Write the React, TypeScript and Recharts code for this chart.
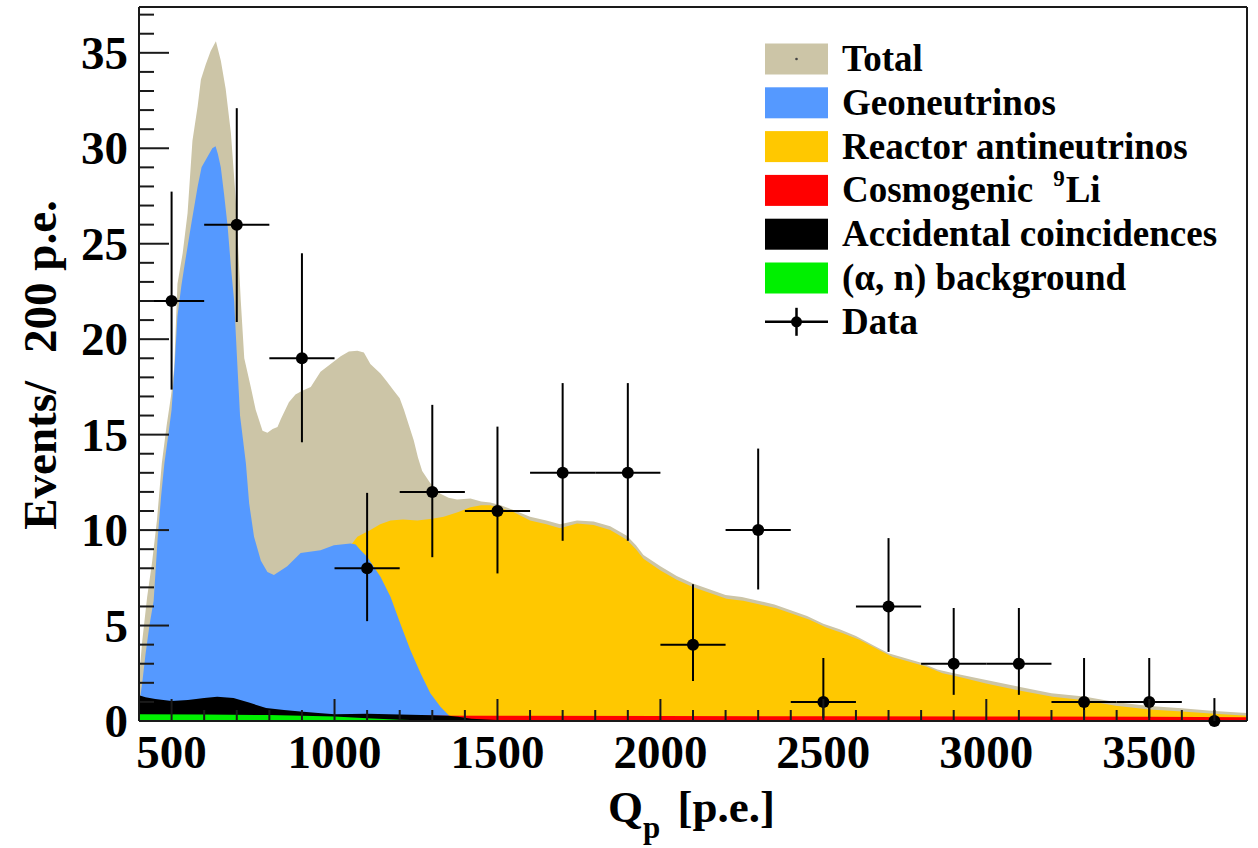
import React from 'react';
import { ComposedChart, Area, Scatter, ErrorBar, XAxis, YAxis, ReferenceLine, Legend } from 'recharts';

// ---------- data ----------
// [Qp, events per 200 p.e.]
const totalCurve: [number, number][] = [
  [400, 2.2], [410, 4.2], [425, 6.5], [440, 8.3], [455, 10.5], [470, 13.5], [485, 15.5], [498, 17.0],
  [508, 18.5], [518, 22.9], [534, 24.5], [549, 26.6], [564, 30.4], [580, 32.2], [590, 33.6], [605, 34.4],
  [620, 35.1], [636, 35.6], [651, 34.6], [666, 33.1], [682, 30.8], [697, 27.3], [712, 22.1], [723, 19.0],
  [743, 17.5], [758, 16.3], [779, 15.2], [794, 15.1], [810, 15.3], [825, 15.4], [835, 15.8], [860, 16.7],
  [880, 17.1], [901, 17.3], [927, 17.5], [957, 18.3], [988, 18.7], [1019, 19.1], [1044, 19.35], [1070, 19.4],
  [1090, 19.3], [1110, 18.7], [1141, 18.2], [1160, 17.8], [1182, 17.3], [1200, 16.9], [1213, 16.3], [1228, 15.5],
  [1243, 14.7], [1256, 13.8], [1269, 13.1], [1294, 12.45], [1325, 11.9], [1350, 11.7], [1376, 11.6], [1417, 11.65],
  [1450, 11.5], [1478, 11.45], [1510, 11.3], [1549, 11.05], [1600, 10.7], [1650, 10.5], [1692, 10.3], [1744, 10.5],
  [1795, 10.45], [1846, 10.2], [1897, 9.7], [1925, 9.2], [1948, 8.7], [2000, 8.1], [2050, 7.6], [2100, 7.2],
  [2150, 6.9], [2200, 6.6], [2250, 6.5], [2300, 6.3], [2350, 6.1], [2400, 5.8], [2450, 5.5], [2500, 5.1],
  [2550, 4.8], [2600, 4.45], [2650, 4.0], [2700, 3.55], [2750, 3.3], [2800, 3.05], [2850, 2.7], [2900, 2.5],
  [3000, 2.15], [3100, 1.8], [3200, 1.45], [3300, 1.28], [3400, 0.98], [3500, 0.78], [3600, 0.67], [3700, 0.52],
  [3800, 0.42],
];

const reactorCurve: [number, number][] = [
  [400, 0.2], [450, 0.5], [500, 1.0], [550, 2.0], [600, 3.2], [650, 4.3], [700, 5.3], [750, 6.0],
  [800, 6.4], [850, 7.0], [900, 7.6], [950, 8.2], [1000, 8.7], [1050, 9.2], [1070, 9.65], [1110, 10.0],
  [1140, 10.3], [1172, 10.5], [1210, 10.55], [1254, 10.5], [1300, 10.6], [1335, 10.7], [1380, 10.95], [1417, 11.2],
  [1450, 11.3], [1478, 11.3], [1510, 11.15], [1549, 10.95], [1600, 10.5], [1650, 10.3], [1692, 10.1], [1744, 10.35],
  [1795, 10.27], [1846, 10.0], [1897, 9.5], [1925, 9.0], [1948, 8.5], [1999, 7.9], [2050, 7.4], [2101, 7.0],
  [2152, 6.7], [2203, 6.4], [2254, 6.3], [2305, 6.1], [2356, 5.9], [2407, 5.6], [2458, 5.3], [2509, 4.9],
  [2560, 4.6], [2611, 4.25], [2662, 3.8], [2713, 3.35], [2764, 3.1], [2815, 2.85], [2866, 2.5], [2918, 2.3],
  [2999, 1.97], [3101, 1.6], [3203, 1.27], [3295, 1.1], [3397, 0.8], [3500, 0.6], [3600, 0.5], [3700, 0.38],
  [3800, 0.28],
];

const geoCurve: [number, number][] = [
  [400, 0.8], [410, 2.0], [420, 3.5], [432, 5.0], [445, 6.3], [457, 9.5], [468, 11.8], [478, 13.5],
  [490, 15.0], [500, 16.3], [510, 18.8], [518, 21.2], [530, 22.8], [540, 23.9], [560, 26.0], [580, 28.0],
  [592, 29.0], [605, 29.4], [625, 30.0], [635, 30.1], [642, 29.7], [651, 29.0], [661, 27.6], [672, 25.9],
  [682, 23.8], [692, 22.0], [702, 18.6], [710, 16.0], [728, 13.5], [738, 11.4], [753, 9.65], [774, 8.4],
  [794, 7.8], [814, 7.65], [855, 8.1], [896, 8.8], [957, 8.95], [998, 9.2], [1049, 9.3], [1065, 9.25],
  [1080, 8.95], [1100, 8.6], [1141, 7.55], [1172, 6.5], [1202, 5.1], [1233, 3.7], [1264, 2.5], [1294, 1.45],
  [1325, 0.75], [1355, 0.22], [1380, 0.05], [1420, 0], [3800, 0],
];

const li9Curve: [number, number][] = [
  [400, 0.3], [1000, 0.29], [1500, 0.27], [2000, 0.26], [2500, 0.25], [3000, 0.24], [3500, 0.22], [3800, 0.2],
];

const accidentalCurve: [number, number][] = [
  [400, 1.35], [420, 1.25], [450, 1.15], [500, 1.05], [550, 1.1], [600, 1.2], [640, 1.27], [690, 1.2],
  [740, 0.95], [790, 0.68], [845, 0.58], [895, 0.5], [950, 0.42], [1000, 0.36], [1100, 0.38], [1200, 0.34],
  [1300, 0.3], [1350, 0.28], [1380, 0.22], [1420, 0.12], [1500, 0.05], [2000, 0.02], [3800, 0.01],
];

const alphaNCurve: [number, number][] = [
  [400, 0.35], [600, 0.34], [800, 0.31], [1000, 0.24], [1100, 0.14], [1200, 0.06], [1300, 0.02], [1500, 0.01], [3800, 0],
];

// measured data (200 p.e. bins)
const binCenters = [500, 700, 900, 1100, 1300, 1500, 1700, 1900, 2100, 2300, 2500, 2700, 2900, 3100, 3300, 3500, 3700];
const counts = [22, 26, 19, 8, 12, 11, 13, 13, 4, 10, 1, 6, 3, 3, 1, 1, 0];
const lowerBounds = [17.36, 20.9, 14.6, 5.23, 8.58, 7.73, 9.44, 9.44, 2.09, 6.89, 0.17, 3.62, 1.37, 1.37, 0.17, 0.17, 0];
const upperBounds = [27.73, 32.1, 24.5, 11.95, 16.56, 15.42, 17.7, 17.7, 7.16, 14.27, 3.3, 9.58, 5.92, 5.92, 3.3, 3.3, 1.2];
const binHalfWidth = 100;

// axes
const xDomain: [number, number] = [400, 3800];
const yDomain: [number, number] = [0, 37.4];
const xMajorTicks = [500, 1000, 1500, 2000, 2500, 3000, 3500];
const yMajorTicks = [0, 5, 10, 15, 20, 25, 30, 35];
const xTicks = Array.from({ length: 35 }, (_, i) => 400 + i * 100);
const yTicks = Array.from({ length: 38 }, (_, i) => i);

const xTitle = 'Q';
const xTitleSub = 'p';
const xTitleUnit = ' [p.e.]';
const yTitleA = 'Events/';
const yTitleB = '200 p.e.';

// colours
const TAN = '#CCC5A7';
const BLUE = '#5599FF';
const YELLOW = '#FFC800';
const RED = '#FF0000';
const BLACK = '#000000';
const GREEN = '#00F000';

const legendItems = [
  { label: 'Total', color: TAN, kind: 'total' },
  { label: 'Geoneutrinos', color: BLUE, kind: 'box' },
  { label: 'Reactor antineutrinos', color: YELLOW, kind: 'box' },
  { label: 'Cosmogenic', sup: '9', after: 'Li', color: RED, kind: 'box' },
  { label: 'Accidental coincidences', color: BLACK, kind: 'box' },
  { label: '(\u03b1, n) background', color: GREEN, kind: 'box' },
  { label: 'Data', color: BLACK, kind: 'data' },
];

const toRows = (c: [number, number][]) => c.map(([q, v]) => ({ q, v }));

const pointRows = binCenters.map((q, i) => ({
  q,
  v: counts[i],
  ey: [counts[i] - lowerBounds[i], upperBounds[i] - counts[i]],
  ex: binHalfWidth,
}));

const FONT = "'Liberation Serif', 'Times New Roman', serif";
const AXIS_COLOR = '#1a1a1a';

const XTick = (props: any) => {
  const { x, y, payload } = props;
  const v = payload.value;
  const major = xMajorTicks.includes(v);
  return (
    <g>
      <line x1={x} x2={x} y1={y} y2={y - (major ? 22 : 11)} stroke={AXIS_COLOR} strokeWidth={2} />
      {major && (
        <text x={x} y={y + 47} textAnchor="middle" fontFamily={FONT} fontWeight="bold" fontSize={47} fill="#000">
          {v}
        </text>
      )}
    </g>
  );
};

const YTick = (props: any) => {
  const { x, y, payload } = props;
  const v = payload.value;
  const major = yMajorTicks.includes(v);
  return (
    <g>
      <line x1={x} x2={x + (major ? 30 : 15)} y1={y} y2={y} stroke={AXIS_COLOR} strokeWidth={2} />
      {major && (
        <text x={x - 11} y={y + 16} textAnchor="end" fontFamily={FONT} fontWeight="bold" fontSize={47} fill="#000">
          {v}
        </text>
      )}
    </g>
  );
};

const XTitleLabel = (props: any) => {
  const vb = props.viewBox || { x: 139, y: 721, width: 1108, height: 127 };
  const cx = vb.x + vb.width / 2;
  const base = vb.y + 101;
  return (
    <text x={cx - 85} y={base} fontFamily={FONT} fontWeight="bold" fontSize={45} fill="#000">
      <tspan>{xTitle}</tspan>
      <tspan dy={16} fontSize={31}>{xTitleSub}</tspan>
      <tspan dy={-16} dx={6}>{xTitleUnit}</tspan>
    </text>
  );
};

const YTitleLabel = (props: any) => {
  const vb = props.viewBox || { x: 0, y: 7, width: 139, height: 714 };
  const cy = vb.y + vb.height / 2 + 1;
  const bx = 56;
  return (
    <text
      x={bx}
      y={cy}
      transform={`rotate(-90, ${bx}, ${cy})`}
      textAnchor="middle"
      fontFamily={FONT}
      fontWeight="bold"
      fontSize={47}
      fill="#000"
    >
      <tspan>{yTitleA}</tspan>
      <tspan dx={28}>{yTitleB}</tspan>
    </text>
  );
};

const LegendBox = () => {
  const rowY = (i: number) => 29 + i * 43.8;
  return (
    <svg width={490} height={320} style={{ display: 'block', overflow: 'visible' }}>
      {legendItems.map((it, i) => {
        const cy = rowY(i);
        return (
          <g key={it.label}>
            {it.kind !== 'data' && (
              <rect x={5} y={cy - 15.5} width={63} height={31} fill={it.color} />
            )}
            {it.kind === 'total' && <circle cx={36.5} cy={cy} r={1.3} fill="#444" />}
            {it.kind === 'data' && (
              <g>
                <line x1={5} x2={68} y1={cy} y2={cy} stroke="#000" strokeWidth={2.5} />
                <line x1={36.5} x2={36.5} y1={cy - 14} y2={cy + 14} stroke="#000" strokeWidth={2.5} />
                <circle cx={36.5} cy={cy} r={5.5} fill="#000" />
              </g>
            )}
            <text x={82} y={cy + 12} fontFamily={FONT} fontWeight="bold" fontSize={37} fill="#000">
              {it.label}
              {it.sup && (
                <>
                  <tspan dx={20} dy={-16} fontSize={23}>{it.sup}</tspan>
                  <tspan dx={1} dy={16}>{it.after}</tspan>
                </>
              )}
            </text>
          </g>
        );
      })}
    </svg>
  );
};

const Dot = (props: any) => {
  const { cx, cy } = props;
  if (cx == null || cy == null) return null;
  return <circle cx={cx} cy={cy} r={6} fill="#000" />;
};

export default function App() {
  return (
    <div style={{ position: 'absolute', left: 0, top: 0, width: 1258, height: 848, background: '#fff' }}>
      <ComposedChart width={1258} height={848} margin={{ top: 7, right: 11, left: 0, bottom: 0 }}>
        <Area data={toRows(totalCurve)} dataKey="v" type="linear" fill={TAN} fillOpacity={1} stroke="none" isAnimationActive={false} dot={false} activeDot={false} />
        <Area data={toRows(reactorCurve)} dataKey="v" type="linear" fill={YELLOW} fillOpacity={1} stroke="none" isAnimationActive={false} dot={false} activeDot={false} />
        <Area data={toRows(geoCurve)} dataKey="v" type="linear" fill={BLUE} fillOpacity={1} stroke="none" isAnimationActive={false} dot={false} activeDot={false} />
        <Area data={toRows(li9Curve)} dataKey="v" type="linear" fill={RED} fillOpacity={1} stroke="none" isAnimationActive={false} dot={false} activeDot={false} />
        <Area data={toRows(accidentalCurve)} dataKey="v" type="linear" fill={BLACK} fillOpacity={1} stroke="none" isAnimationActive={false} dot={false} activeDot={false} />
        <Area data={toRows(alphaNCurve)} dataKey="v" type="linear" fill={GREEN} fillOpacity={1} stroke="none" isAnimationActive={false} dot={false} activeDot={false} />

        <XAxis
          dataKey="q"
          type="number"
          domain={xDomain}
          ticks={xTicks}
          interval={0}
          tickSize={0}
          tickMargin={0}
          tick={<XTick />}
          height={127}
          axisLine={{ stroke: AXIS_COLOR, strokeWidth: 2 }}
          tickLine={false}
          label={<XTitleLabel />}
        />
        <YAxis
          dataKey="v"
          type="number"
          domain={yDomain}
          ticks={yTicks}
          interval={0}
          tickSize={0}
          tickMargin={0}
          tick={<YTick />}
          width={139}
          axisLine={{ stroke: AXIS_COLOR, strokeWidth: 2 }}
          tickLine={false}
          label={<YTitleLabel />}
        />
        <ReferenceLine y={yDomain[1]} stroke={AXIS_COLOR} strokeWidth={2} />
        <ReferenceLine x={xDomain[1]} stroke={AXIS_COLOR} strokeWidth={2} />

        <Scatter data={pointRows} dataKey="v" fill="#000" shape={<Dot />} isAnimationActive={false}>
          <ErrorBar dataKey="ey" direction="y" width={0} stroke="#000" strokeWidth={2} />
          <ErrorBar dataKey="ex" direction="x" width={0} stroke="#000" strokeWidth={2} />
        </Scatter>

        <Legend
          layout="vertical"
          align="center"
          verticalAlign="middle"
          wrapperStyle={{ left: 760, top: 30, width: 490, height: 320 }}
          content={() => <LegendBox />}
        />
      </ComposedChart>
    </div>
  );
}
